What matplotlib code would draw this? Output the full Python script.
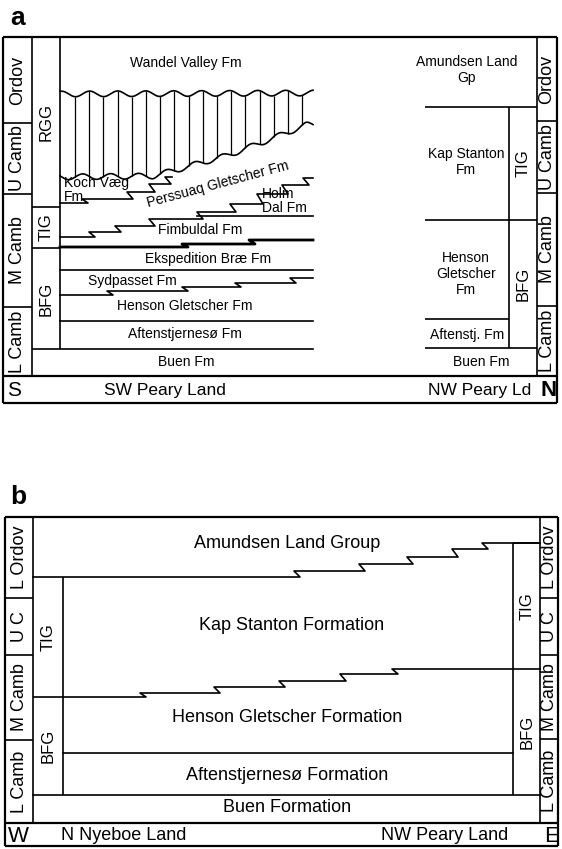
import matplotlib.pyplot as plt
import numpy as np

plt.rcParams['font.family'] = ['Liberation Sans', 'DejaVu Sans']

# ---------------- panel a (pixel coordinates, y downwards) ----------------
a_epochs = ["Ordov", "U Camb", "M Camb", "L Camb"]
a_epoch_y_left = [37, 123, 194, 307, 376]
a_epoch_y_right = [37, 121, 193, 306, 376]
a_groups_left = ["RGG", "TIG", "BFG"]
a_group_y_left = [37, 207, 248, 349]
a_groups_right = ["TIG", "BFG"]
a_group_y_right = [107, 220, 348]

# formation boundaries, SW Peary Land: (start x, start y, [(step x, new y)], end x)
a_koch_base = (60, 203, [(85, 199), (130, 192), (152, 184), (168, 177)], 172)
a_perssuaq_base = (60, 237, [(92, 232), (118, 226), (152, 219), (200, 212),
                             (233, 204), (260, 194), (285, 185), (306, 178)], 313)
a_holm_base = (197, 216, [], 313)
a_fimbuldal_base = (60, 247, [(185, 244), (252, 240)], 313)
a_ekspedition_base = (60, 270, [], 313)
a_sydpasset_base = (60, 295, [(110, 291), (185, 287), (238, 283), (293, 278)], 313)
a_henson_base = (60, 321, [], 313)
a_aften_base = (33, 349, [], 313)
# Wandel Valley unconformities (base polylines)
a_wave_top = [(60, 94), (313, 93)]
a_wave_bot = [(60, 177), (160, 176), (183, 170), (207, 163), (233, 156),
              (257, 147), (283, 137), (313, 125)]
# NW Peary Land boundaries
a_right_lines = [(425, 537, 107), (425, 537, 220), (425, 509, 319), (425, 537, 348)]

a_labels = [("Wandel Valley Fm", 186, 63), ("Fimbuldal Fm", 200, 230),
            ("Ekspedition Bræ Fm", 208, 259), ("Sydpasset Fm", 132, 281),
            ("Henson Gletscher Fm", 185, 306), ("Aftenstjernesø Fm", 185, 334),
            ("Buen Fm", 186, 362), ("Amundsen Land\nGp", 467, 70),
            ("Kap Stanton\nFm", 466, 162), ("Henson\nGletscher\nFm", 466, 274),
            ("Aftenstj. Fm", 467, 335), ("Buen Fm", 481, 362)]

# ---------------- panel b ----------------
b_epochs = ["L Ordov", "U C", "M Camb", "L Camb"]
b_epoch_y_left = [517, 598, 655, 740, 823]
b_epoch_y_right = [517, 598, 655, 739, 823]
b_groups = ["TIG", "BFG"]
b_group_y_left = [577, 697, 795]
b_group_y_right = [543, 669, 795]
b_amundsen_base = (33, 577, [(297, 571), (362, 564), (410, 557), (455, 549), (485, 543)], 540)
b_kap_base = (63, 697, [(143, 693), (217, 687), (282, 681), (343, 674), (395, 669)], 540)
b_henson_base = (63, 753, [], 513)
b_aften_base = (33, 795, [], 540)
b_labels = [("Amundsen Land Group", 287, 543), ("Kap Stanton Formation", 292, 626),
            ("Henson Gletscher Formation", 287, 718), ("Aftenstjernesø Formation", 287, 775),
            ("Buen Formation", 287, 808)]

LW = 1.2
FRAME = 1.6

fig = plt.figure(figsize=(5.62, 8.49), dpi=100)
ax = fig.add_axes([0, 0, 1, 1])
ax.set_xlim(0, 562)
ax.set_ylim(849, 0)
ax.axis('off')


def hline(x0, x1, y, lw=LW):
    ax.plot([x0, x1], [y, y], color='black', lw=lw, solid_capstyle='butt')


def vline(x, y0, y1, lw=LW):
    ax.plot([x, x], [y0, y1], color='black', lw=lw, solid_capstyle='butt')


def step_line(spec, lw=LW):
    x0, y0, steps, x1 = spec
    xs, ys = [x0], [y0]
    y = y0
    for sx, ny in steps:
        xs += [sx + 3, sx - 3]
        ys += [y, ny]
        y = ny
    xs.append(x1)
    ys.append(y)
    ax.plot(xs, ys, color='black', lw=lw, solid_joinstyle='round')


def wave(base, x):
    bx, by = zip(*base)
    return np.interp(x, bx, by) - 2.8 * np.sin(2 * np.pi * (x - 60) / 28.0 + 1.2)


def column_text(x, ybounds, names, size=13):
    for name, y0, y1 in zip(names, ybounds[:-1], ybounds[1:]):
        ax.text(x, (y0 + y1) / 2, name, rotation=90, ha='center', va='center', fontsize=size)


def box(x0, x1, y0, y1):
    hline(x0, x1, y0, FRAME)
    hline(x0, x1, y1, FRAME)
    vline(x0, y0, y1, FRAME)
    vline(x1, y0, y1, FRAME)


# ---- panel a ----
ax.text(10, 18, "a", fontsize=19, fontweight='bold', va='center')
box(3, 557, 37, 403)
hline(3, 557, 376, FRAME)
vline(32, 37, 376)
vline(60, 37, 349)
vline(537, 37, 376)
vline(509, 107, 348)
for y in a_epoch_y_left[1:-1]:
    hline(3, 32, y)
for y in a_epoch_y_right[1:-1]:
    hline(537, 557, y)
for y in a_group_y_left[1:-1]:
    hline(32, 60, y)
column_text(18, a_epoch_y_left, a_epochs)
column_text(547, a_epoch_y_right, a_epochs)
column_text(46, a_group_y_left, a_groups_left, 12)
column_text(523, a_group_y_right, a_groups_right, 12)

xw = np.linspace(60, 313, 400)
ax.plot(xw, wave(a_wave_top, xw), color='black', lw=LW)
ax.plot(xw, wave(a_wave_bot, xw + 7), color='black', lw=LW)
for xh in np.arange(75, 306, 14.2):
    vline(xh, wave(a_wave_top, xh), wave(a_wave_bot, xh + 7), 0.9)

for spec in [a_koch_base, a_perssuaq_base, a_holm_base, a_ekspedition_base,
             a_sydpasset_base, a_henson_base, a_aften_base]:
    step_line(spec)
step_line(a_fimbuldal_base, 2.0)
for x0, x1, y in a_right_lines:
    hline(x0, x1, y)

for text, x, y in a_labels:
    ax.text(x, y, text, ha='center', va='center', fontsize=10, linespacing=1.15)
ax.text(64, 190, "Koch Væg\nFm", ha='left', va='center', fontsize=10, linespacing=1.0)
ax.text(262, 201, "Holm\nDal Fm", ha='left', va='center', fontsize=10, linespacing=1.0)
ax.text(218, 184, "Perssuaq Gletscher Fm", ha='center', va='center', fontsize=10,
        rotation=15, rotation_mode='anchor')
ax.text(14, 390, "S", ha='center', va='center', fontsize=15)
ax.text(165, 390, "SW Peary Land", ha='center', va='center', fontsize=12.5)
ax.text(480, 390, "NW Peary Ld", ha='center', va='center', fontsize=12.5)
ax.text(549, 390, "N", ha='center', va='center', fontsize=16, fontweight='bold')

# ---- panel b ----
ax.text(10, 497, "b", fontsize=19, fontweight='bold', va='center')
box(5, 558, 517, 846)
hline(5, 558, 823, FRAME)
vline(33, 517, 823)
vline(63, 577, 795)
vline(540, 517, 823)
vline(513, 543, 795)
for y in b_epoch_y_left[1:-1]:
    hline(5, 33, y)
for y in b_epoch_y_right[1:-1]:
    hline(540, 558, y)
hline(33, 63, b_group_y_left[1])
column_text(19, b_epoch_y_left, b_epochs)
column_text(550, b_epoch_y_right, b_epochs)
column_text(48, b_group_y_left, b_groups, 12)
column_text(527, b_group_y_right, b_groups, 12)

for spec in [b_amundsen_base, b_kap_base, b_henson_base, b_aften_base]:
    step_line(spec)
hline(513, 540, b_group_y_right[0])
for text, x, y in b_labels:
    ax.text(x, y, text, ha='center', va='center', fontsize=13)
ax.text(18, 836, "W", ha='center', va='center', fontsize=16)
ax.text(124, 836, "N Nyeboe Land", ha='center', va='center', fontsize=13)
ax.text(445, 836, "NW Peary Land", ha='center', va='center', fontsize=13)
ax.text(552, 836, "E", ha='center', va='center', fontsize=16)

fig.savefig("out.png", dpi=100)
